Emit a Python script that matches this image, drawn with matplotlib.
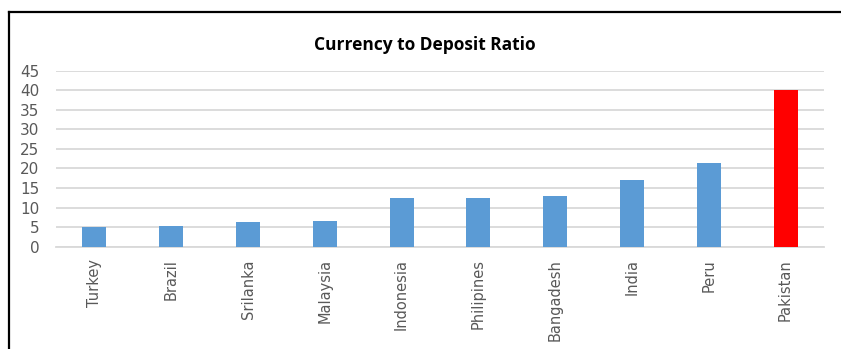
import matplotlib
matplotlib.use("Agg")
import matplotlib.pyplot as plt
from matplotlib.lines import Line2D

countries = ["Turkey", "Brazil", "Srilanka", "Malaysia", "Indonesia",
             "Philipines", "Bangadesh", "India", "Peru", "Pakistan"]
ratios = [5.1, 5.4, 6.2, 6.5, 12.4, 12.4, 13.0, 17.1, 21.3, 40.1]
highlight = "Pakistan"
y_ticks = [0, 5, 10, 15, 20, 25, 30, 35, 40, 45]

W, H = 841, 349
fig = plt.figure(figsize=(W / 100, H / 100), dpi=100)
fig.patch.set_facecolor("white")

ax = fig.add_axes([56 / W, 1 - 246.7 / H, 768 / W, (246.7 - 70.7) / H])

colors = ["#ff0000" if c == highlight else "#5b9bd5" for c in countries]
x = range(len(countries))
ax.bar(x, ratios, width=0.31, color=colors, zorder=3)

ax.set_xlim(-0.5, len(countries) - 0.5)
ax.set_ylim(0, 45)
ax.set_yticks(y_ticks)
ax.set_yticklabels([str(t) for t in y_ticks], fontsize=11, color="#595959",
                   family="DejaVu Sans")
ax.set_xticks(list(x))
ax.set_xticklabels(countries, rotation=90, fontsize=10.5, color="#595959",
                   family="DejaVu Sans")
ax.tick_params(axis="both", length=0)
ax.tick_params(axis="y", pad=12)
ax.tick_params(axis="x", pad=9)

ax.grid(axis="y", color="#d9d9d9", linewidth=1.3, zorder=0)
for s in ["top", "right", "left"]:
    ax.spines[s].set_visible(False)
ax.spines["bottom"].set_color("#d9d9d9")
ax.spines["bottom"].set_linewidth(1.3)

fig.text(425 / W, 1 - 45 / H, "Currency to Deposit Ratio", ha="center",
         va="center", fontsize=12.5, fontweight="bold", family="Open Sans",
         color="black")

# outer frame (top and left edges)
ytop = 1 - 11.5 / H
xl = 8.5 / W
fig.add_artist(Line2D([xl, 1.0], [ytop, ytop], transform=fig.transFigure,
                      color="black", linewidth=1.6))
fig.add_artist(Line2D([xl, xl], [0, ytop], transform=fig.transFigure,
                      color="black", linewidth=1.6))

fig.savefig("out.png", dpi=100)
